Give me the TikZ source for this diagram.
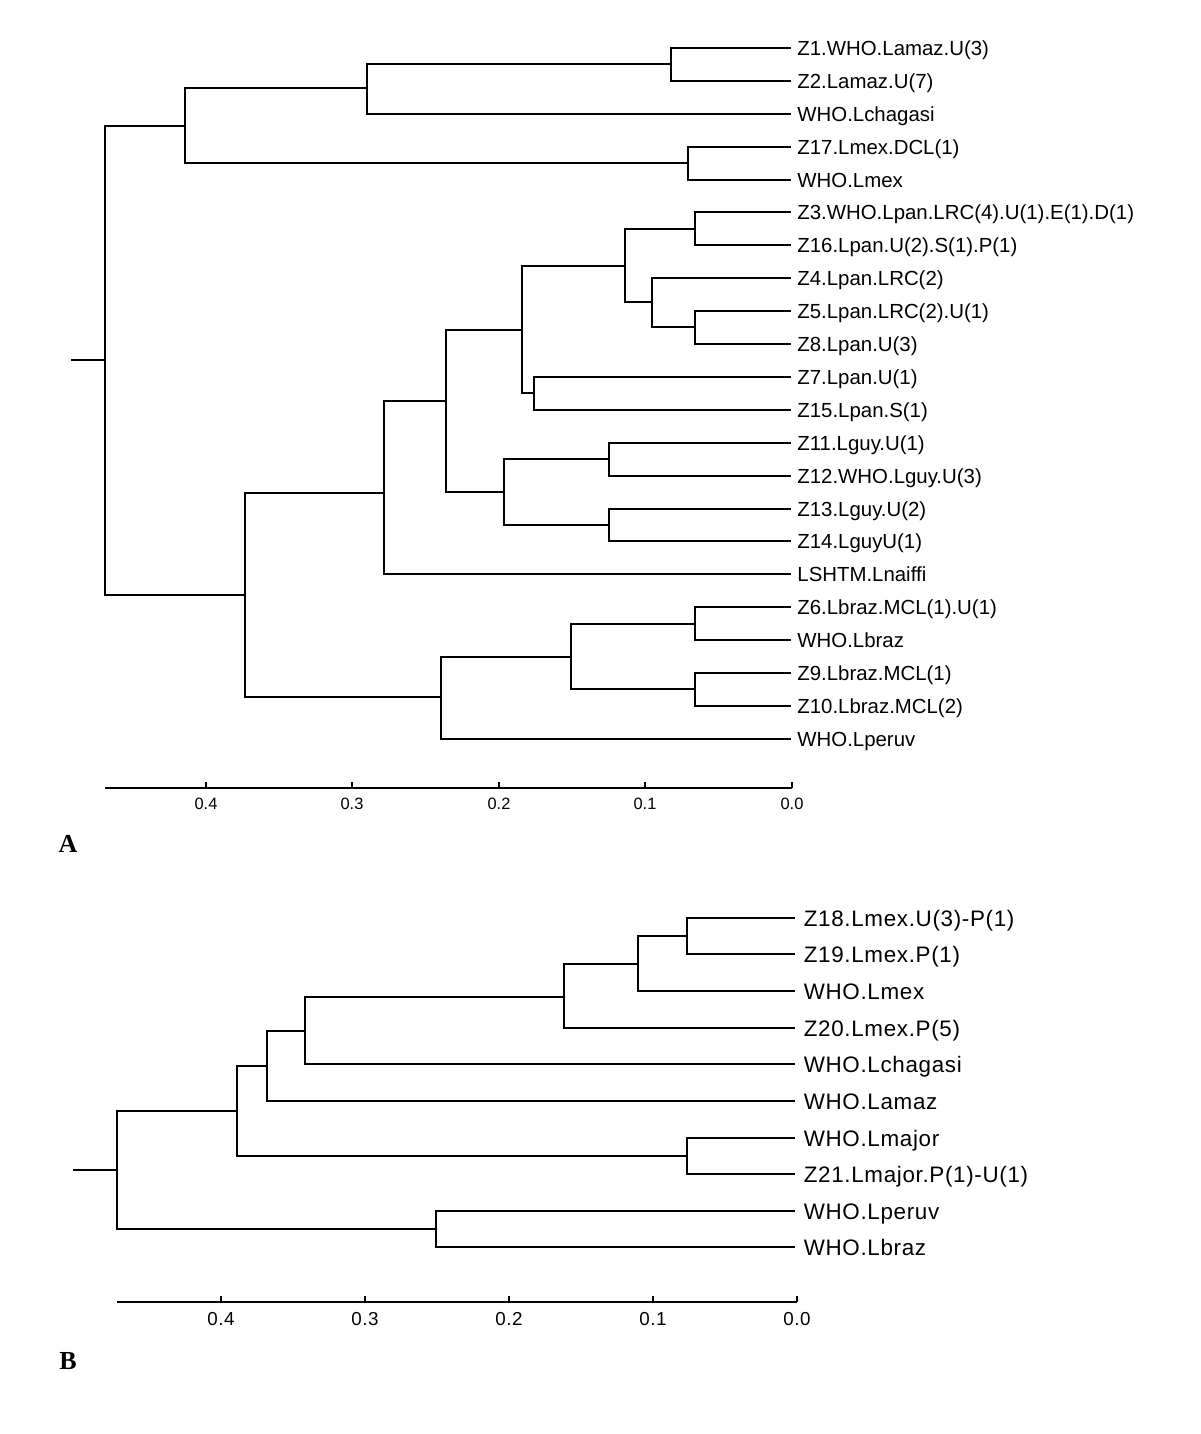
\documentclass[tikz,border=0pt]{standalone}
\usepackage{fontspec}
\setmainfont{Liberation Sans}
\newfontfamily\spacedfont[LetterSpace=3]{Liberation Sans}
\newfontfamily\panelfont{Liberation Serif}

\begin{document}
\begin{tikzpicture}[
  x=0.5pt, y=-0.5pt,
  branch/.style={line width=0.9pt},
  leafa/.style={anchor=west, inner xsep=3pt, inner ysep=0pt, text height=7.4pt,
    text depth=0pt, font=\fontsize{10.2}{12}\selectfont},
  leafb/.style={anchor=west, inner xsep=4.2pt, inner ysep=0pt, text height=8pt,
    text depth=0pt, font=\spacedfont\fontsize{11.2}{13}\selectfont},
  ticka/.style={font=\fontsize{8.2}{10}\selectfont},
  tickb/.style={font=\spacedfont\fontsize{9.4}{11}\selectfont},
  panel/.style={font=\panelfont\bfseries\fontsize{13}{15}\selectfont}
]
\useasboundingbox (0,0) rectangle (1200,1434);

% panel A: leaves
\node[leafa] (z1) at (791,48) {Z1.WHO.Lamaz.U(3)};
\node[leafa] (z2) at (791,81) {Z2.Lamaz.U(7)};
\node[leafa] (chagA) at (791,114) {WHO.Lchagasi};
\node[leafa] (z17) at (791,147) {Z17.Lmex.DCL(1)};
\node[leafa] (mexA) at (791,180) {WHO.Lmex};
\node[leafa] (z3) at (791,212) {Z3.WHO.Lpan.LRC(4).U(1).E(1).D(1)};
\node[leafa] (z16) at (791,245) {Z16.Lpan.U(2).S(1).P(1)};
\node[leafa] (z4) at (791,278) {Z4.Lpan.LRC(2)};
\node[leafa] (z5) at (791,311) {Z5.Lpan.LRC(2).U(1)};
\node[leafa] (z8) at (791,344) {Z8.Lpan.U(3)};
\node[leafa] (z7) at (791,377) {Z7.Lpan.U(1)};
\node[leafa] (z15) at (791,410) {Z15.Lpan.S(1)};
\node[leafa] (z11) at (791,443) {Z11.Lguy.U(1)};
\node[leafa] (z12) at (791,476) {Z12.WHO.Lguy.U(3)};
\node[leafa] (z13) at (791,509) {Z13.Lguy.U(2)};
\node[leafa] (z14) at (791,541) {Z14.LguyU(1)};
\node[leafa] (naiffi) at (791,574) {LSHTM.Lnaiffi};
\node[leafa] (z6) at (791,607) {Z6.Lbraz.MCL(1).U(1)};
\node[leafa] (brazA) at (791,640) {WHO.Lbraz};
\node[leafa] (z9) at (791,673) {Z9.Lbraz.MCL(1)};
\node[leafa] (z10) at (791,706) {Z10.Lbraz.MCL(2)};
\node[leafa] (peruvA) at (791,739) {WHO.Lperuv};

% panel A: joins
\coordinate (stubA) at (71,360);
\coordinate (rootA) at (105,360);
\coordinate (a1) at (185,126);
\coordinate (a2) at (367,88);
\coordinate (a3) at (688,163);
\coordinate (a4) at (671,64);
\coordinate (a5) at (245,595);
\coordinate (a6) at (384,493);
\coordinate (a7) at (441,697);
\coordinate (a8) at (446,401);
\coordinate (a9) at (522,330);
\coordinate (a10) at (504,492);
\coordinate (a11) at (625,266);
\coordinate (a12) at (534,393);
\coordinate (a13) at (695,229);
\coordinate (a14) at (652,302);
\coordinate (a15) at (695,327);
\coordinate (a16) at (609,459);
\coordinate (a17) at (609,525);
\coordinate (a18) at (571,657);
\coordinate (a19) at (695,624);
\coordinate (a20) at (695,689);

\draw[branch] (stubA) -- (rootA);
\draw[branch] (rootA) |- (a1) (rootA) |- (a5);
\draw[branch] (a1) |- (a2) (a1) |- (a3);
\draw[branch] (a2) |- (a4) (a2) |- (chagA.west);
\draw[branch] (a4) |- (z1.west) (a4) |- (z2.west);
\draw[branch] (a3) |- (z17.west) (a3) |- (mexA.west);
\draw[branch] (a5) |- (a6) (a5) |- (a7);
\draw[branch] (a6) |- (a8) (a6) |- (naiffi.west);
\draw[branch] (a8) |- (a9) (a8) |- (a10);
\draw[branch] (a9) |- (a11) (a9) |- (a12);
\draw[branch] (a11) |- (a13) (a11) |- (a14);
\draw[branch] (a13) |- (z3.west) (a13) |- (z16.west);
\draw[branch] (a14) |- (z4.west) (a14) |- (a15);
\draw[branch] (a15) |- (z5.west) (a15) |- (z8.west);
\draw[branch] (a12) |- (z7.west) (a12) |- (z15.west);
\draw[branch] (a10) |- (a16) (a10) |- (a17);
\draw[branch] (a16) |- (z11.west) (a16) |- (z12.west);
\draw[branch] (a17) |- (z13.west) (a17) |- (z14.west);
\draw[branch] (a7) |- (a18) (a7) |- (peruvA.west);
\draw[branch] (a18) |- (a19) (a18) |- (a20);
\draw[branch] (a19) |- (z6.west) (a19) |- (brazA.west);
\draw[branch] (a20) |- (z9.west) (a20) |- (z10.west);

% panel A: scale
\coordinate (axA0) at (105,788);
\coordinate (axA1) at (792,788);
\draw[branch] (axA0) -- (axA1);
\foreach \x/\t [count=\k] in {206/0.4, 352/0.3, 499/0.2, 645/0.1, 792/0.0} {
  \draw[branch] (\x,788) -- (\x,782);
  \node[ticka] (tka\k) at (\x,804) {\t};
}
\node[panel] (labA) at (68,843.5) {A};

% panel B: leaves
\node[leafb] (z18) at (795,918) {Z18.Lmex.U(3)-P(1)};
\node[leafb] (z19) at (795,954) {Z19.Lmex.P(1)};
\node[leafb] (mexB) at (795,991) {WHO.Lmex};
\node[leafb] (z20) at (795,1028) {Z20.Lmex.P(5)};
\node[leafb] (chagB) at (795,1064) {WHO.Lchagasi};
\node[leafb] (amazB) at (795,1101) {WHO.Lamaz};
\node[leafb] (majorB) at (795,1138) {WHO.Lmajor};
\node[leafb] (z21) at (795,1174) {Z21.Lmajor.P(1)-U(1)};
\node[leafb] (peruvB) at (795,1211) {WHO.Lperuv};
\node[leafb] (brazB) at (795,1247) {WHO.Lbraz};

% panel B: joins
\coordinate (stubB) at (73,1170);
\coordinate (rootB) at (117,1170);
\coordinate (b1) at (237,1111);
\coordinate (b2) at (436,1229);
\coordinate (b3) at (267,1066);
\coordinate (b4) at (687,1156);
\coordinate (b5) at (305,1031);
\coordinate (b6) at (564,997);
\coordinate (b7) at (638,964);
\coordinate (b8) at (687,936);

\draw[branch] (stubB) -- (rootB);
\draw[branch] (rootB) |- (b1) (rootB) |- (b2);
\draw[branch] (b1) |- (b3) (b1) |- (b4);
\draw[branch] (b3) |- (b5) (b3) |- (amazB.west);
\draw[branch] (b5) |- (b6) (b5) |- (chagB.west);
\draw[branch] (b6) |- (b7) (b6) |- (z20.west);
\draw[branch] (b7) |- (b8) (b7) |- (mexB.west);
\draw[branch] (b8) |- (z18.west) (b8) |- (z19.west);
\draw[branch] (b4) |- (majorB.west) (b4) |- (z21.west);
\draw[branch] (b2) |- (peruvB.west) (b2) |- (brazB.west);

% panel B: scale
\coordinate (axB0) at (117,1302);
\coordinate (axB1) at (797,1302);
\draw[branch] (axB0) -- (axB1);
\foreach \x/\t [count=\k] in {221/0.4, 365/0.3, 509/0.2, 653/0.1, 797/0.0} {
  \draw[branch] (\x,1302) -- (\x,1296);
  \node[tickb] (tkb\k) at (\x,1319) {\t};
}
\node[panel] (labB) at (68,1361) {B};
\end{tikzpicture}
\end{document}
